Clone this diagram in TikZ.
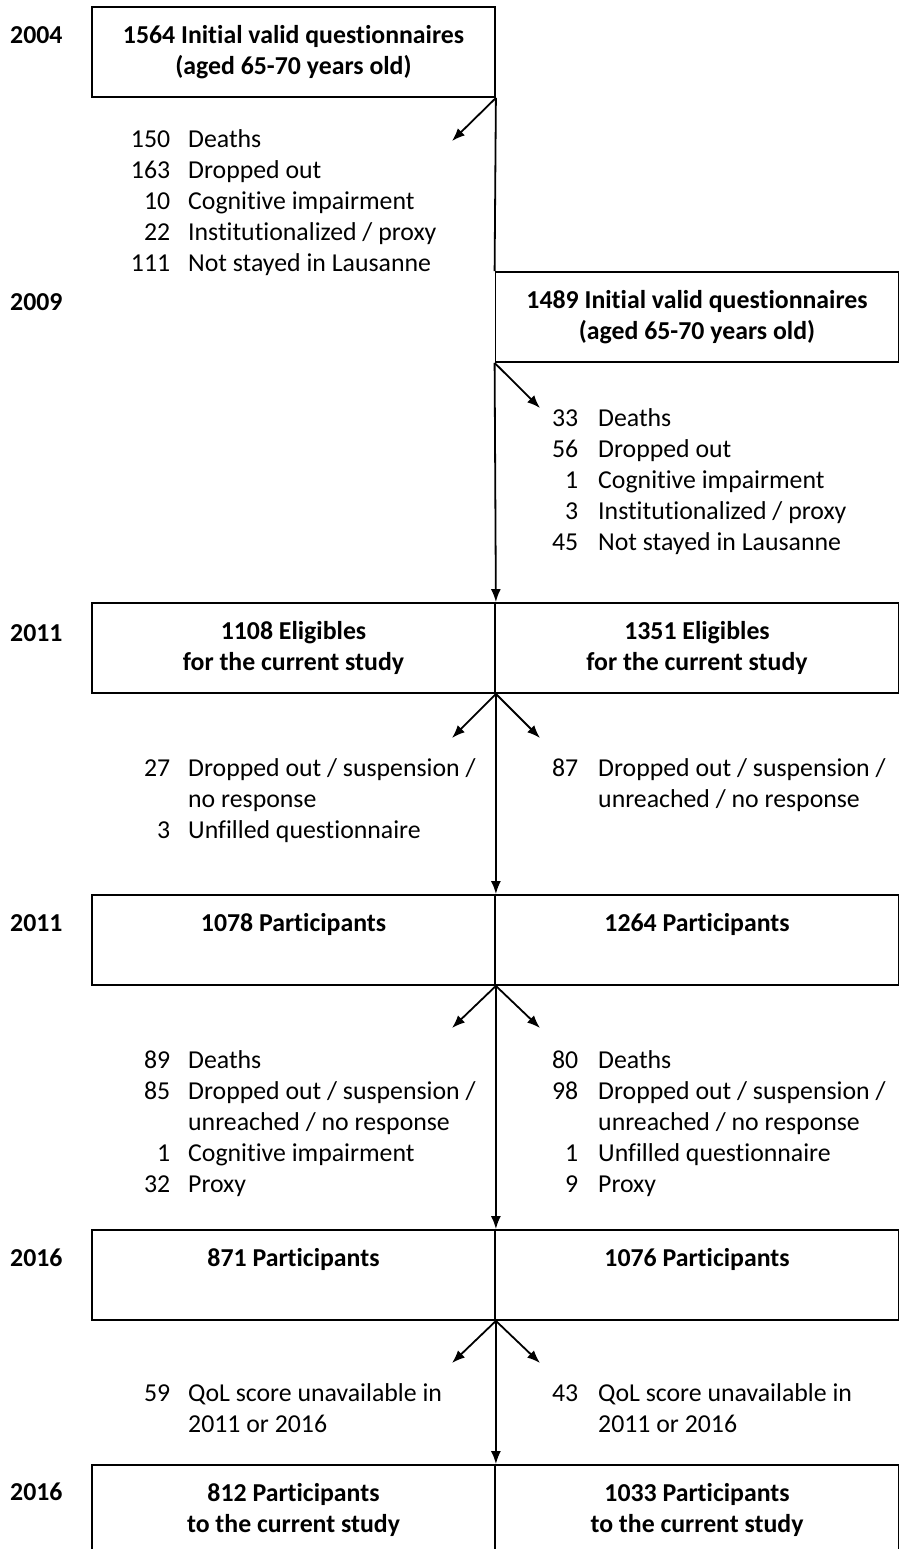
\documentclass[tikz,border=0pt]{standalone}
\usepackage{fontspec}
\setmainfont{Carlito}[Ligatures=NoCommon]
\usepackage{array}
\usetikzlibrary{arrows.meta, positioning}

\newcommand{\fsz}{\fontsize{25.8}{31}\selectfont}
\newcommand{\leftlist}[1]{\begin{tabular}[t]{@{}w{r}{40pt}@{\hspace{18pt}}l@{}}#1\end{tabular}}
\newcommand{\rightlist}[1]{\begin{tabular}[t]{@{}w{r}{40pt}@{\hspace{20pt}}l@{}}#1\end{tabular}}

\begin{document}
\begin{tikzpicture}[x=1pt, y=-1pt,
	box/.style={draw, line width=1.8pt, minimum width=403pt, minimum height=90pt, inner sep=0pt, align=center, font=\fsz\bfseries},
	year/.style={anchor=base west, inner sep=0pt, font=\fsz\bfseries},
	loss/.style={anchor=base west, inner sep=0pt, font=\fsz},
	link/.style={line width=1.8pt},
	arr/.style={line width=1.8pt, -{Latex[length=13pt, width=10pt]}}]
	\useasboundingbox (0,0) rectangle (901,1549);

	\node[year] (y04) at (10,44) {2004};
	\node[year] (y09) at (10,310) {2009};
	\node[year] (y11a) at (10,641) {2011};
	\node[year] (y11b) at (10,931) {2011};
	\node[year] (y16a) at (10,1266) {2016};
	\node[year] (y16b) at (10,1500) {2016};

	\node[box] (init04) at (293.5,52) {1564 Initial valid questionnaires\\(aged 65-70 years old)};
	\node[box] (init09) at (697,317) {1489 Initial valid questionnaires\\(aged 65-70 years old)};
	\node[box] (eligL) at (293.5,648) {1108 Eligibles\\for the current study};
	\node[box] (eligR) at (697,648) {1351 Eligibles\\for the current study};
	\node[box] (partL) at (293.5,940) {1078 Participants\\[-6pt]\strut};
	\node[box] (partR) at (697,940) {1264 Participants\\[-6pt]\strut};
	\node[box] (part16L) at (293.5,1275) {871 Participants\\[-6pt]\strut};
	\node[box] (part16R) at (697,1275) {1076 Participants\\[-6pt]\strut};
	\node[box] (finalL) at (293.5,1510) {812 Participants\\to the current study};
	\node[box] (finalR) at (697,1510) {1033 Participants\\to the current study};

	\node[loss] (loss04) at (130,148) {\leftlist{150 & Deaths\\163 & Dropped out\\10 & Cognitive impairment\\22 & Institutionalized / proxy\\111 & Not stayed in Lausanne}};
	\node[loss] (loss09) at (538,426) {\rightlist{33 & Deaths\\56 & Dropped out\\1 & Cognitive impairment\\3 & Institutionalized / proxy\\45 & Not stayed in Lausanne}};
	\node[loss] (lossL1) at (130,776) {\leftlist{27 & Dropped out / suspension /\\ & no response\\3 & Unfilled questionnaire}};
	\node[loss] (lossR1) at (538,776) {\rightlist{87 & Dropped out / suspension /\\ & unreached / no response}};
	\node[loss] (lossL2) at (130,1068) {\leftlist{89 & Deaths\\85 & Dropped out / suspension /\\ & unreached / no response\\1 & Cognitive impairment\\32 & Proxy}};
	\node[loss] (lossR2) at (538,1068) {\rightlist{80 & Deaths\\98 & Dropped out / suspension /\\ & unreached / no response\\1 & Unfilled questionnaire\\9 & Proxy}};
	\node[loss] (lossL3) at (130,1401) {\leftlist{59 & QoL score unavailable in\\ & 2011 or 2016}};
	\node[loss] (lossR3) at (538,1401) {\rightlist{43 & QoL score unavailable in\\ & 2011 or 2016}};

	\coordinate (d04) at (452,141);
	\coordinate (d09) at (540,408);
	\coordinate (dL1) at (452,738);
	\coordinate (dR1) at (540,738);
	\coordinate (dL2) at (452,1028);
	\coordinate (dR2) at (540,1028);
	\coordinate (dL3) at (452,1363);
	\coordinate (dR3) at (540,1363);

	\draw[link] (init04.south east) -- (init09.north west);
	\draw[arr] (init04.south east) -- (d04);
	\draw[arr] (init09.south west) -- (d09);
	\draw[arr] (init09.south west) -- (eligL.north east);
	\draw[arr] (eligL.south east) -- (dL1);
	\draw[arr] (eligL.south east) -- (dR1);
	\draw[arr] (eligL.south east) -- (partL.north east);
	\draw[arr] (partL.south east) -- (dL2);
	\draw[arr] (partL.south east) -- (dR2);
	\draw[arr] (partL.south east) -- (part16L.north east);
	\draw[arr] (part16L.south east) -- (dL3);
	\draw[arr] (part16L.south east) -- (dR3);
	\draw[arr] (part16L.south east) -- (finalL.north east);
\end{tikzpicture}
\end{document}
